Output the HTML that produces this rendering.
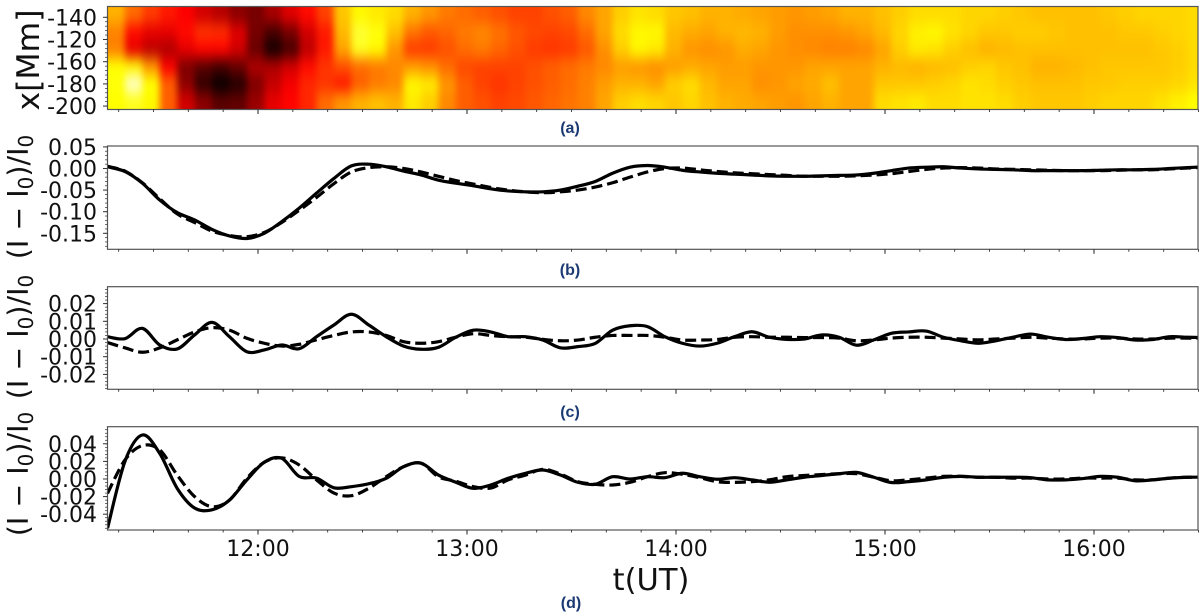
<!DOCTYPE html>
<html lang="en">
<head>
<meta charset="utf-8">
<title>Intensity oscillation panels</title>
<style>
html,body{margin:0;padding:0;background:#fff;width:1200px;height:616px;overflow:hidden}
svg{display:block}
text{font-family:"DejaVu Sans","Liberation Sans",sans-serif;fill:#111}
.sub{font-family:"Liberation Sans",sans-serif;font-weight:bold;font-size:16px;fill:#1b3a73}
</style>
</head>
<body>
<svg id="fig" width="1200" height="616" viewBox="0 0 1200 616" xmlns="http://www.w3.org/2000/svg">
  <defs>
    <filter id="soft" filterUnits="userSpaceOnUse" x="60" y="-40" width="1200" height="200" color-interpolation-filters="sRGB">
      <feGaussianBlur stdDeviation="3.5 7"/>
    </filter>
    <clipPath id="clip-a"><rect x="107.5" y="6.5" width="1090.5" height="103"/></clipPath>
    <clipPath id="clip-b"><rect x="107.5" y="146" width="1090.5" height="103.3"/></clipPath>
    <clipPath id="clip-c"><rect x="107.5" y="286.7" width="1090.5" height="102.6"/></clipPath>
    <clipPath id="clip-d"><rect x="107.5" y="426.7" width="1090.5" height="103.3"/></clipPath>
  </defs>
  <g id="heat-layer" clip-path="url(#clip-a)"><g id="heat-cells" filter="url(#soft)"></g></g>
  <g id="marks"></g>
  <g id="axes"></g>

  <text transform="translate(39,60) rotate(-90)" text-anchor="middle" font-size="31.5">x[Mm]</text>
  <text transform="translate(28,197) rotate(-90)" text-anchor="middle" font-size="28.5">(I − I<tspan font-size="20" dy="5">0</tspan><tspan dy="-5">)/I</tspan><tspan font-size="20" dy="5">0</tspan></text>
  <text transform="translate(28,337) rotate(-90)" text-anchor="middle" font-size="28.5">(I − I<tspan font-size="20" dy="5">0</tspan><tspan dy="-5">)/I</tspan><tspan font-size="20" dy="5">0</tspan></text>
  <text transform="translate(28,474) rotate(-90)" text-anchor="middle" font-size="28.5">(I − I<tspan font-size="20" dy="5">0</tspan><tspan dy="-5">)/I</tspan><tspan font-size="20" dy="5">0</tspan></text>
  <text x="651" y="590" text-anchor="middle" font-size="30.5">t(UT)</text>
  <text class="sub" x="570" y="133" text-anchor="middle">(a)</text>
  <text class="sub" x="570" y="275" text-anchor="middle">(b)</text>
  <text class="sub" x="570" y="417" text-anchor="middle">(c)</text>
  <text class="sub" x="571" y="608" text-anchor="middle">(d)</text>
</svg>
<script>
// ---------- chart data ----------
const startMinute = 676.8;   // 11:16.8 UT
const sampleStepMinutes = 5;

const hourTickMinutes = [720, 780, 840, 900, 960];
const hourTickLabels = ["12:00", "13:00", "14:00", "15:00", "16:00"];

const heatTickLabels = ["-140", "-120", "-160", "-180", "-200"];
const heatTickPositions = [0, 1, 2, 3, 4];

const bTicks = [0.05, 0, -0.05, -0.10, -0.15];
const bTickLabels = ["0.05", "0.00", "-0.05", "-0.10", "-0.15"];
const cTicks = [0.02, 0.01, 0, -0.01, -0.02];
const cTickLabels = ["0.02", "0.01", "0.00", "-0.01", "-0.02"];
const dTicks = [0.04, 0.02, 0, -0.02, -0.04];
const dTickLabels = ["0.04", "0.02", "0.00", "-0.02", "-0.04"];

const bSolid = [
 .004,-.007,-.034,-.073,-.102,-.119,-.141,-.156,-.162,-.150,
 -.123,-.092,-.057,-.023,.006,.010,.004,-.006,-.015,-.027,
 -.034,-.040,-.047,-.052,-.054,-.054,-.050,-.041,-.030,-.011,
 .003,.007,.003,-.004,-.008,-.011,-.013,-.015,-.017,-.018,
 -.018,-.017,-.016,-.015,-.011,-.005,.001,.003,.004,.001,
 -.001,-.002,-.003,-.005,-.005,-.005,-.005,-.004,-.003,-.003,
 -.002,0,.002,.004];
const bDashed = [
 .005,-.006,-.033,-.070,-.105,-.125,-.145,-.155,-.158,-.148,
 -.125,-.097,-.067,-.035,-.008,.002,.004,0,-.008,-.018,
 -.028,-.036,-.044,-.050,-.054,-.056,-.054,-.050,-.043,-.033,
 -.020,-.008,0,.001,-.003,-.007,-.010,-.012,-.014,-.016,
 -.018,-.018,-.018,-.017,-.015,-.012,-.007,-.002,.001,.002,
 .001,-.001,-.002,-.003,-.004,-.005,-.005,-.005,-.004,-.003,
 -.003,-.001,.001,.003];

const cSolid = [
 .0013,.0002,.006,-.0034,-.0056,.0023,.0094,.0013,-.0072,-.0062,
 -.0034,-.0055,.0013,.0079,.014,.0079,.0013,-.004,-.0058,-.0047,
 .001,.005,.004,.0013,.0013,-.0006,-.005,-.0043,-.0025,.005,
 .0075,.007,.0013,-.0024,-.004,-.0024,.0013,.0041,.001,-.0002,
 0,.0023,.001,-.0035,-.0005,.0032,.004,.0045,.001,-.001,
 -.0024,-.001,.001,.0028,.001,-.0003,.0003,.0013,.0008,-.0006,
 -.0003,.0013,.001,.0008];
const cDashed = [
 -.002,-.005,-.0075,-.005,-.0005,.004,.0064,.005,.0004,-.0024,
 -.004,-.003,-.0005,.002,.004,.004,.002,-.0015,-.0024,-.0015,
 .001,.003,.002,.0013,.001,-.0002,-.001,-.0006,.001,.002,
 .002,.002,.001,-.0006,-.0006,-.0003,.001,.0013,.001,.001,
 .0008,.0008,.0005,-.001,-.0005,.0005,.001,.001,.0005,0,
 -.0005,0,.0005,.001,.0005,0,0,.0005,.0005,0,
 0,.0005,.0005,.0005];

const dSolid = [
 -.056,.020,.050,.029,-.0106,-.033,-.035,-.024,-.001,.019,
 .0235,.003,.001,-.010,-.0087,-.0054,.0008,.014,.018,.0045,
 -.0037,-.0106,-.0068,.0008,.0065,.0102,.0045,-.0037,-.006,.0026,
 0,.0026,.0015,.0065,.0026,-.0003,.0015,-.001,-.0037,-.001,
 .002,.004,.006,.0075,.002,-.004,-.003,-.001,.002,.003,
 .002,.002,.002,.0015,-.001,-.001,.0005,.003,.002,-.002,
 -.001,.001,.002,.002];
const dDashed = [
 -.0163,.0216,.038,.033,.0045,-.020,-.0315,-.024,.0008,.019,
 .024,.016,-.001,-.016,-.019,-.0106,.0026,.014,.018,.0026,
 -.0026,-.0087,-.0103,-.001,.0045,.011,.0057,-.003,-.006,-.0068,
 -.0038,.0026,.0072,.0053,.0015,-.003,-.0038,-.003,-.001,.0026,
 .004,.005,.006,.006,.002,-.002,-.001,.001,.003,.003,
 .002,.002,.001,.001,0,0,.001,.001,.001,-.001,
 -.001,.001,.002,.002];

// heatmap intensity, rows top-to-bottom, one value every 5 minutes (0 = black, 100 = white)
const heatRow1 = [62,52,45,40,36,30,26,20,17,24,32,38,46,65,72,70,68,62,58,54,52,50,48,46,46,48,50,56,60,66,69,68,65,64,62,62,61,60,59,58,59,60,62,62,64,66,68,68,68,67,67,66,65,64,64,64,64,65,66,67,67,67,68];
const heatRow2 = [55,38,33,33,38,44,43,32,17,10,17,30,40,63,80,76,64,53,49,51,54,56,53,49,47,46,47,52,60,68,72,72,63,61,60,62,63,62,59,57,57,57,58,60,63,67,71,72,69,67,65,65,66,66,65,64,64,64,65,65,66,67,68];
const heatRow3 = [55,33,27,25,33,37,37,30,15,3,10,27,40,60,78,72,58,45,45,48,52,54,51,48,45,44,45,49,57,66,72,70,62,58,57,58,61,60,58,57,56,55,55,56,60,66,70,69,66,64,62,63,64,64,64,64,64,64,64,64,65,66,68];
const heatRow4 = [74,72,58,36,18,13,10,15,25,25,30,38,44,48,52,54,56,59,57,52,47,46,46,46,48,50,52,54,56,59,58,57,59,61,60,59,59,58,58,58,60,60,60,60,62,63,62,63,64,66,67,65,64,62,62,63,64,65,65,65,65,66,68];
const heatRow5 = [76,95,75,50,20,7,1,5,18,28,35,42,44,40,50,54,56,72,70,58,50,46,44,46,48,50,52,55,59,62,62,60,66,68,63,60,60,57,58,60,61,64,60,60,65,65,65,66,67,69,68,66,65,64,64,64,65,65,66,66,66,67,69];
const heatRow6 = [74,78,72,50,30,20,13,14,22,33,37,42,52,58,62,64,62,70,66,56,50,48,46,47,49,51,53,55,60,66,68,67,65,67,64,62,61,60,59,58,60,62,60,60,68,69,70,68,68,69,69,68,66,65,65,65,66,67,67,67,69,71,73];
const heatRows = [heatRow1, heatRow2, heatRow3, heatRow4, heatRow5, heatRow6];

// ---------- layout and scales ----------
const SVGNS = "http://www.w3.org/2000/svg";
const axisLeft = 107.5, axisRight = 1198;
const pxPerMinute = 209 / 60;
function xScale(minute) { return 258 + (minute - 720) * pxPerMinute; }
function sampleMinute(i) { return startMinute + i * sampleStepMinutes; }
function linearY(zeroPx, pxPerUnit) { return function (v) { return zeroPx - v * pxPerUnit; }; }
const yB = linearY(168.5, 432);
const yC = linearY(339, 1770);
const yD = linearY(479, 880);

const marks = document.getElementById("marks");
const axes = document.getElementById("axes");
const heatCells = document.getElementById("heat-cells");

function hotColor(value) {
  const v = value / 100;
  const clamp = function (c) { return Math.max(0, Math.min(1, c)); };
  const r = clamp(v / 0.365), g = clamp((v - 0.365) / 0.365), b = clamp((v - 0.75) / 0.25);
  return "rgb(" + Math.round(r * 255) + "," + Math.round(g * 255) + "," + Math.round(b * 255) + ")";
}

// heatmap cells
const heatTop = 6.5, heatBottom = 109.5;
const rowHeight = (heatBottom - heatTop) / heatRows.length;
heatRows.forEach(function (row, r) {
  row.forEach(function (value, c) {
    const x0 = xScale(sampleMinute(c));
    const x1 = xScale(sampleMinute(c + 1));
    let y0 = heatTop + r * rowHeight;
    let h = rowHeight + 0.5;
    if (r === 0) { y0 -= 30; h += 30; }
    if (r === heatRows.length - 1) { h += 30; }
    let w = x1 - x0 + 0.5;
    let xx = x0;
    if (c === 0) { xx -= 30; w += 30; }
    if (c === row.length - 1) { w += 30; }
    const cell = document.createElementNS(SVGNS, "rect");
    
    
    cell.setAttribute("x", xx.toFixed(2));
    cell.setAttribute("y", y0.toFixed(2));
    cell.setAttribute("width", w.toFixed(2));
    cell.setAttribute("height", h.toFixed(2));
    cell.setAttribute("fill", hotColor(value));
    heatCells.appendChild(cell);
  });
});

// line series, drawn as a smooth curve through the samples
function smoothPath(values, yScale) {
  const px = values.map(function (v, i) { return [xScale(sampleMinute(i)), yScale(v)]; });
  let d = "M" + px[0][0].toFixed(2) + " " + px[0][1].toFixed(2);
  for (let i = 0; i < px.length - 1; i++) {
    const p0 = px[Math.max(0, i - 1)], p1 = px[i], p2 = px[i + 1], p3 = px[Math.min(px.length - 1, i + 2)];
    const c1x = p1[0] + (p2[0] - p0[0]) / 6, c1y = p1[1] + (p2[1] - p0[1]) / 6;
    const c2x = p2[0] - (p3[0] - p1[0]) / 6, c2y = p2[1] - (p3[1] - p1[1]) / 6;
    d += " C" + c1x.toFixed(2) + " " + c1y.toFixed(2) + " " + c2x.toFixed(2) + " " + c2y.toFixed(2) + " " + p2[0].toFixed(2) + " " + p2[1].toFixed(2);
  }
  return d;
}
function drawLine(values, yScale, clipId, dashed, name) {
  const line = document.createElementNS(SVGNS, "path");
  
  
  line.setAttribute("d", smoothPath(values, yScale));
  line.setAttribute("fill", "none");
  line.setAttribute("stroke", "#000");
  line.setAttribute("stroke-width", "3.2");
  line.setAttribute("stroke-linejoin", "round");
  if (dashed) line.setAttribute("stroke-dasharray", "11 5");
  line.setAttribute("clip-path", "url(#" + clipId + ")");
  marks.appendChild(line);
}
drawLine(bDashed, yB, "clip-b", true, "series-b-model");
drawLine(bSolid, yB, "clip-b", false, "series-b-observed");
drawLine(cDashed, yC, "clip-c", true, "series-c-model");
drawLine(cSolid, yC, "clip-c", false, "series-c-observed");
drawLine(dDashed, yD, "clip-d", true, "series-d-model");
drawLine(dSolid, yD, "clip-d", false, "series-d-observed");

// axes helpers
function addTick(x1, y1, x2, y2, width) {
  const t = document.createElementNS(SVGNS, "line");
  
  
  t.setAttribute("x1", x1);
  t.setAttribute("y1", y1);
  t.setAttribute("x2", x2);
  t.setAttribute("y2", y2);
  t.setAttribute("stroke", "#333");
  t.setAttribute("stroke-width", width);
  axes.appendChild(t);
}
function addTickLabel(x, y, label, anchor) {
  const t = document.createElementNS(SVGNS, "text");
  
  
  t.setAttribute("x", x);
  t.setAttribute("y", y);
  t.setAttribute("text-anchor", anchor);
  t.setAttribute("font-size", "22");
  t.textContent = label;
  axes.appendChild(t);
}
function addFrame(top, bottom, name) {
  const r = document.createElementNS(SVGNS, "rect");
  
  
  r.setAttribute("x", axisLeft);
  r.setAttribute("y", top);
  r.setAttribute("width", axisRight - axisLeft);
  r.setAttribute("height", bottom - top);
  r.setAttribute("fill", "none");
  r.setAttribute("stroke", "#555");
  r.setAttribute("stroke-width", "1.2");
  axes.appendChild(r);
}
function addXTicks(bottom) {
  for (let m = 680; m <= 990; m += 10) {
    const major = m % 60 === 0;
    addTick(xScale(m), bottom, xScale(m), bottom + (major ? 4.5 : 2.5), major ? 1.1 : 0.9);
  }
}
function addMinorY(yScale, lo, hi, step, top, bottom) {
  const n = Math.round((hi - lo) / step);
  for (let i = 0; i <= n; i++) {
    const y = yScale(lo + i * step);
    if (y >= top && y <= bottom) addTick(axisLeft - 2.5, y, axisLeft, y, 0.7);
  }
}
function addYTicks(ticks, labels, yScale) {
  ticks.forEach(function (v, i) {
    const y = yScale(v);
    addTick(axisLeft - 4.5, y, axisLeft, y, 1);
    addTickLabel(97, y + 8, labels[i], "end");
  });
}

// panel a axes
addFrame(6.5, 109.5, "panel-a-frame");
addXTicks(109.5);
const yHeat = linearY(17.3, -22.2);
addMinorY(yHeat, 0, 4, 0.2, 6.5, 109.5);
heatTickPositions.forEach(function (p, i) {
  const y = yHeat(p);
  addTick(axisLeft - 4.5, y, axisLeft, y, 1);
  addTickLabel(97, y + 8, heatTickLabels[i], "end");
});

// panel b axes
addFrame(146, 249.3, "panel-b-frame");
addXTicks(249.3);
addMinorY(yB, -0.19, 0.06, 0.01, 146, 249.3);
addYTicks(bTicks, bTickLabels, yB);

// panel c axes
addFrame(286.7, 389.3, "panel-c-frame");
addXTicks(389.3);
addMinorY(yC, -0.03, 0.03, 0.002, 286.7, 389.3);
addYTicks(cTicks, cTickLabels, yC);

// panel d axes
addFrame(426.7, 530, "panel-d-frame");
addXTicks(530);
addMinorY(yD, -0.06, 0.06, 0.004, 426.7, 530);
addYTicks(dTicks, dTickLabels, yD);
hourTickMinutes.forEach(function (m, i) {
  addTickLabel(xScale(m), 556, hourTickLabels[i], "middle");
});
</script>
</body>
</html>
